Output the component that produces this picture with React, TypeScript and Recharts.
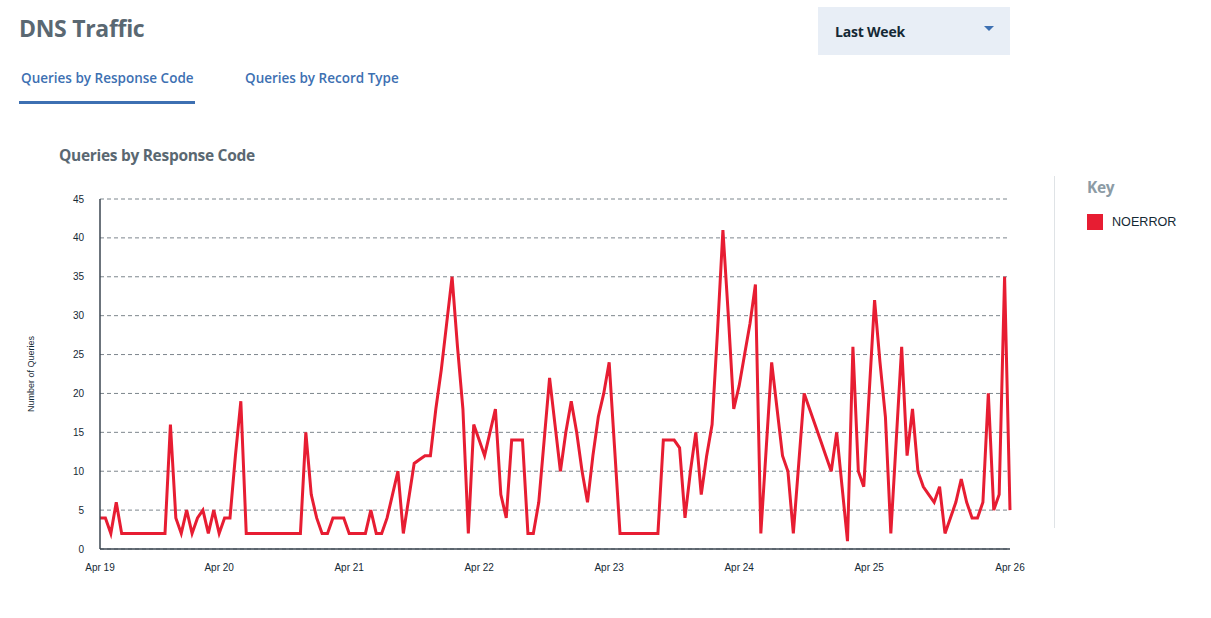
import React from 'react';
import { LineChart, Line, XAxis, YAxis, CartesianGrid } from 'recharts';

// Hourly NOERROR query counts, Apr 19 02:00 → Apr 26 02:00
const queryCounts: number[] = [
  4, 4, 2, 6, 2, 2, 2, 2, 2, 2, 2, 2, 2, 16, 4, 2, 5, 2, 4, 5, 2, 5,
  2, 4, 4, 12, 19, 2, 2, 2, 2, 2, 2, 2, 2, 2, 2, 2, 15, 7, 4, 2, 2, 4, 4, 4,
  2, 2, 2, 2, 5, 2, 2, 4, 7, 10, 2, 6.5, 11, 11.5, 12, 12, 18, 23, 29, 35, 26, 18, 2, 16,
  14, 12, 15, 18, 7, 4, 14, 14, 14, 2, 2, 6, 14, 22, 16, 10, 15, 19, 15, 10, 6, 12, 17, 20,
  24, 13, 2, 2, 2, 2, 2, 2, 2, 2, 14, 14, 14, 13, 4, 10, 15, 7, 12, 16, 28, 41, 30, 18,
  21, 25, 29, 34, 2, 13, 24, 18, 12, 10, 2, 11, 20, 18, 16, 14, 12, 10, 15, 8, 1, 26,
  10, 8, 20, 32, 24, 17, 2, 14, 26, 12, 18, 10, 8, 7, 6, 8, 2, 4, 6, 9, 6, 4, 4, 6,
  20, 5, 7, 35, 5,
];

const xTickHours: number[] = [0, 22, 46, 70, 94, 118, 142, 168];
const xTickLabels: string[] = ['Apr 19', 'Apr 20', 'Apr 21', 'Apr 22', 'Apr 23', 'Apr 24', 'Apr 25', 'Apr 26'];
const yTicks: number[] = [0, 5, 10, 15, 20, 25, 30, 35, 40, 45];
const seriesName = 'NOERROR';
const tabLabels: string[] = ['Queries by Response Code', 'Queries by Record Type'];

const chartData = queryCounts.map((v, i) => ({ hour: i, NOERROR: v }));

const RED = '#e71d32';
const HEAD = '"Open Sans", "Noto Sans", sans-serif';
const AXISFONT = '"Liberation Sans", Arial, sans-serif';

export default function App() {
  return (
    <div
      style={{
        position: 'absolute',
        left: 0,
        top: 0,
        width: 1211,
        height: 618,
        background: '#fff',
        overflow: 'hidden',
      }}
    >
      <div
        style={{
          position: 'absolute',
          left: 19,
          top: 12,
          fontFamily: HEAD,
          fontWeight: 700,
          fontSize: 23,
          color: '#5a6872',
          letterSpacing: -0.3,
          lineHeight: '32px',
        }}
      >
        DNS Traffic
      </div>

      <div
        style={{
          position: 'absolute',
          left: 21,
          top: 68,
          fontFamily: HEAD,
          fontWeight: 600,
          fontSize: 13.5,
          color: '#3d70b2',
          lineHeight: '20px',
          letterSpacing: 0,
        }}
      >
        {tabLabels[0]}
      </div>
      <div style={{ position: 'absolute', left: 19, top: 101, width: 176, height: 3, background: '#3d70b2' }} />
      <div
        style={{
          position: 'absolute',
          left: 245,
          top: 68,
          fontFamily: HEAD,
          fontWeight: 600,
          fontSize: 13.5,
          color: '#3d70b2',
          lineHeight: '20px',
          letterSpacing: 0,
        }}
      >
        {tabLabels[1]}
      </div>

      <div
        style={{
          position: 'absolute',
          left: 818,
          top: 7,
          width: 192,
          height: 48,
          background: '#e8eef6',
        }}
      >
        <div
          style={{
            position: 'absolute',
            left: 17,
            top: 15,
            fontFamily: HEAD,
            fontWeight: 700,
            fontSize: 14,
            color: '#152935',
            lineHeight: '20px',
            letterSpacing: -0.2,
          }}
        >
          Last Week
        </div>
        <div
          style={{
            position: 'absolute',
            left: 166,
            top: 19,
            width: 0,
            height: 0,
            borderLeft: '5px solid transparent',
            borderRight: '5px solid transparent',
            borderTop: '5px solid #3d70b2',
          }}
        />
      </div>

      <div
        style={{
          position: 'absolute',
          left: 59,
          top: 144,
          fontFamily: HEAD,
          fontWeight: 700,
          fontSize: 15.5,
          color: '#5a6872',
          lineHeight: '22px',
          letterSpacing: -0.3,
        }}
      >
        {tabLabels[0]}
      </div>

      <div
        style={{
          position: 'absolute',
          left: 31,
          top: 374,
          transform: 'translate(-50%, -50%) rotate(-90deg)',
          fontFamily: AXISFONT,
          fontSize: 9,
          color: '#152935',
          whiteSpace: 'nowrap',
        }}
      >
        Number of Queries
      </div>

      <div style={{ position: 'absolute', left: 0, top: 0 }}>
        <LineChart
          width={1050}
          height={618}
          data={chartData}
          margin={{ top: 199, right: 40, bottom: 39, left: 40 }}
        >
          <CartesianGrid vertical={false} stroke="#7d868d" strokeDasharray="4 3" strokeWidth={1} />
          <XAxis
            dataKey="hour"
            type="number"
            domain={[0, 168]}
            ticks={xTickHours}
            tickFormatter={(h: number) => xTickLabels[xTickHours.indexOf(h)]}
            interval={0}
            height={30}
            tickLine={false}
            tickSize={0}
            tickMargin={15}
            axisLine={{ stroke: '#3b4651', strokeWidth: 1.5 }}
            tick={{ fontFamily: AXISFONT, fontSize: 10, fill: '#152935' }}
          />
          <YAxis
            type="number"
            domain={[0, 45]}
            ticks={yTicks}
            interval={0}
            width={60}
            tickLine={false}
            tickSize={0}
            tickMargin={16}
            axisLine={{ stroke: '#3b4651', strokeWidth: 1.5 }}
            tick={{ fontFamily: AXISFONT, fontSize: 10, fill: '#152935' }}
          />
          <Line
            type="linear"
            dataKey="NOERROR"
            name={seriesName}
            stroke={RED}
            strokeWidth={3}
            dot={false}
            activeDot={false}
            isAnimationActive={false}
          />
        </LineChart>
      </div>

      <div style={{ position: 'absolute', left: 1054, top: 176, width: 1, height: 352, background: '#dfe3e6' }} />

      <div
        style={{
          position: 'absolute',
          left: 1087,
          top: 176,
          fontFamily: HEAD,
          fontWeight: 700,
          fontSize: 15.5,
          color: '#8c9ba5',
          lineHeight: '22px',
          letterSpacing: -0.3,
        }}
      >
        Key
      </div>
      <div style={{ position: 'absolute', left: 1087, top: 214, width: 16, height: 16, background: RED }} />
      <div
        style={{
          position: 'absolute',
          left: 1112,
          top: 213,
          fontFamily: AXISFONT,
          fontSize: 12.6,
          color: '#152935',
          lineHeight: '18px',
        }}
      >
        {seriesName}
      </div>
    </div>
  );
}
